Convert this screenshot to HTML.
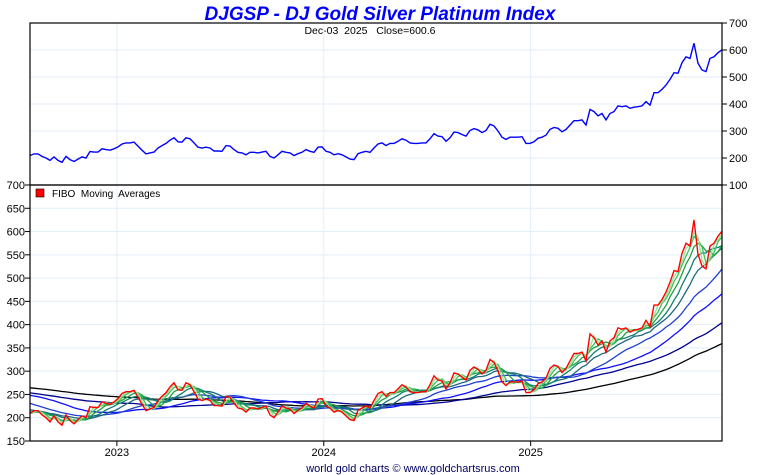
<!DOCTYPE html>
<html><head><meta charset="utf-8"><style>
body{margin:0;background:#fff}
svg{display:block;font-family:"Liberation Sans",Arial,sans-serif}
</style></head><body>
<svg id="chart" width="760" height="475" viewBox="0 0 760 475">
<text x="380" y="20" text-anchor="middle" font-size="19" font-weight="bold" font-style="italic" fill="#0000ff">DJGSP - DJ Gold Silver Platinum Index</text>
<text x="370" y="34" text-anchor="middle" font-size="10.5" fill="#000" xml:space="preserve">Dec-03  2025   Close=600.6</text>
<g id="grid"></g>
<g id="series"></g>
<rect x="30" y="23" width="692" height="162" fill="none" stroke="#000" stroke-width="1.2"/>
<rect x="30" y="185" width="692" height="256" fill="none" stroke="#000" stroke-width="1.2"/>
<g id="axes"></g>
<rect x="36" y="189" width="8" height="8" fill="#ff0000" stroke="#000" stroke-width="0.6"/>
<text x="52" y="197" font-size="10" xml:space="preserve">FIBO  Moving  Averages</text>
<text x="413" y="472" text-anchor="middle" font-size="11" fill="#000060">world gold charts © www.goldchartsrus.com</text>
</svg>
<script>
// weekly closes before visible window (used for moving averages only)
const preHistory = [276,279,282,280,277,281,284,280,284,278,286,290,282,276,272,280,285,288,292,286,280,283,289,294,290,284,281,278,283,287,282,276,272,268,266,262,258,255,260,264,258,254,256,260,263,259,256,258,262,266,264,260,262,268,272,270,274,279,284,290,294,286,278,272,266,258,252,248,244,240,236,232,228,224,220,218,216,214,212,210,212,210];
// visible weekly closes (Jul 2022 - Dec 2025)
const closes = [209,215,215,206,200,191,204,191,184,206,194,187,196,204,200,224,222,222,234,231,229,234,241,252,256,256,259,244,229,215,219,222,237,246,254,266,275,260,259,275,271,256,240,237,240,237,226,226,225,246,244,231,221,219,212,221,221,219,222,225,206,
200,212,225,221,219,209,216,221,231,225,221,240,241,225,221,212,216,212,204,196,194,216,221,225,221,237,252,256,246,254,254,262,271,266,256,254,254,256,256,271,290,281,279,262,275,296,294,287,281,302,309,304,294,302,325,319,300,
277,269,277,277,277,279,254,254,260,273,277,285,306,313,310,297,306,322,338,338,341,322,380,372,356,365,341,365,372,393,390,393,384,388,390,393,409,396,442,442,454,470,491,516,514,553,575,569,625,551,526,520,569,575,590,600.6];
const maPeriods = [2,3,5,8,12,20,32,52,82];
const maColors = ['#90e890','#40c060','#20a040','#108070','#206880','#2040d0','#1010ff','#000090','#000000'];
const topTicks = [100,200,300,400,500,600,700];
const bottomTicks = [150,200,250,300,350,400,450,500,550,600,650,700];
const yearTicks = [2023,2024,2025];

const NS='http://www.w3.org/2000/svg';
const gGrid=document.getElementById('grid'),gSer=document.getElementById('series'),gAx=document.getElementById('axes');
const X0=30,X1=722,T0=2022.58,T1=2025.925;
const tOf=i=>T0+i*(T1-T0)/(closes.length-1);
const xT=t=>X0+(t-T0)/(T1-T0)*(X1-X0);
const yTop=v=>23+(700-v)*162/600;
const yBot=v=>185+(700-v)*256/550;
function el(tag,attrs,parent){const e=document.createElementNS(NS,tag);for(const k in attrs)e.setAttribute(k,attrs[k]);parent.appendChild(e);return e;}

yearTicks.forEach(yr=>{
  const x=xT(yr);
  const l=el('line',{x1:x,x2:x,y1:23,y2:441,stroke:'#e2eef8','stroke-width':1},gGrid);
  
  
  const tk=el('line',{x1:x,x2:x,y1:441,y2:446,stroke:'#000'},gAx);
  
  
  const t=el('text',{x:x,y:456,'text-anchor':'middle','font-size':11},gAx);
  t.textContent=yr;
  
  
});
topTicks.forEach(v=>{
  const y=yTop(v);
  if(v>100&&v<700){const l=el('line',{x1:X0,x2:X1,y1:y,y2:y,stroke:'#e2eef8'},gGrid);
  
  }
  const tk=el('line',{x1:X1,x2:X1+5,y1:y,y2:y,stroke:'#000'},gAx);
  
  
  const t=el('text',{x:729,y:y+4,'font-size':11},gAx);
  t.textContent=v;
  
  
});
el('line',{x1:X1,x2:X1,y1:185,y2:190,stroke:'#000'},gAx);
bottomTicks.forEach(v=>{
  const y=yBot(v);
  if(v>150&&v<700){const l=el('line',{x1:X0,x2:X1,y1:y,y2:y,stroke:'#e2eef8'},gGrid);
  
  }
  const tk=el('line',{x1:X0-5,x2:X0,y1:y,y2:y,stroke:'#000'},gAx);
  
  
  const t=el('text',{x:25,y:y+4,'text-anchor':'end','font-size':11},gAx);
  t.textContent=v;
  
  
});

const ptsTop=closes.map((v,i)=>xT(tOf(i)).toFixed(1)+','+yTop(v).toFixed(1)).join(' ');
const pl=el('polyline',{points:ptsTop,fill:'none',stroke:'#0000ff','stroke-width':1.4},gSer);



const all=preHistory.concat(closes),off=preHistory.length;
for(let m=maPeriods.length-1;m>=0;m--){
  const n=maPeriods[m],pts=[];
  for(let i=0;i<closes.length;i++){
    let s=0;for(let k=0;k<n;k++)s+=all[off+i-k];
    pts.push(xT(tOf(i)).toFixed(1)+','+yBot(s/n).toFixed(1));
  }
  const p=el('polyline',{points:pts.join(' '),fill:'none',stroke:maColors[m],'stroke-width':1.3},gSer);
  
  
}
const ptsBot=closes.map((v,i)=>xT(tOf(i)).toFixed(1)+','+yBot(v).toFixed(1)).join(' ');
const pr=el('polyline',{points:ptsBot,fill:'none',stroke:'#ff0000','stroke-width':1.4},gSer);


</script>
</body></html>
